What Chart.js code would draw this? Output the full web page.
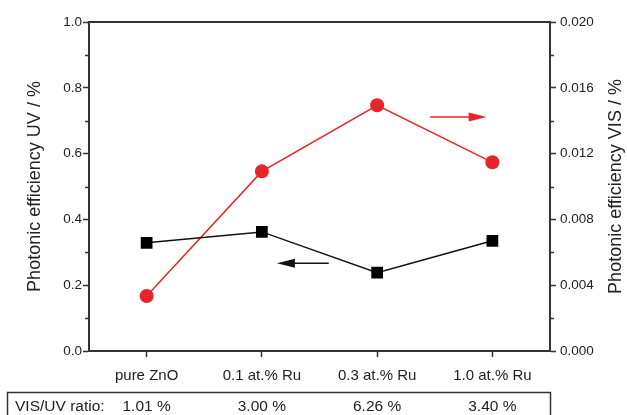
<!DOCTYPE html>
<html>
<head>
<meta charset="utf-8">
<script src="https://cdn.jsdelivr.net/npm/chart.js@4/dist/chart.umd.min.js"></script>
<style>
  html, body { margin: 0; padding: 0; background: #fff; }
  #wrap { width: 627px; height: 415px; position: relative; }
</style>
</head>
<body>
<div id="wrap"><canvas id="c" width="627" height="415"></canvas></div>
<script>
// ---- data ----
const categories = ['pure ZnO', '0.1 at.% Ru', '0.3 at.% Ru', '1.0 at.% Ru'];
const uvEfficiency = [0.329, 0.362, 0.238, 0.335];        // left axis, %
const visEfficiency = [0.00334, 0.01092, 0.01494, 0.01147]; // right axis, %
const visUvRatio = ['1.01 %', '3.00 %', '6.26 %', '3.40 %'];
const uvAxisRange = [0, 1.0, 0.2];       // min, max, step
const visAxisRange = [0, 0.020, 0.004];  // min, max, step
const uvTitle = 'Photonic efficiency UV / %';
const visTitle = 'Photonic efficiency VIS / %';
const tableLabel = 'VIS/UV ratio:';
// arrows pointing at the axis each series belongs to (category index, axis value)
const visArrow = { x0: 2.46, x1: 2.95, y: 0.01422 };
const uvArrow = { x0: 1.58, x1: 1.13, y: 0.267 };

const RED = '#e8232a';
const AXIS = '#333333';
const TEXT = '#222222';
const FONT = "'Liberation Sans', Arial, Helvetica, sans-serif";

function arrow(ctx, x0, y0, x1, y1, color) {
  const dir = Math.sign(x1 - x0);
  const headLen = 18, headHalf = 4.5;
  ctx.save();
  ctx.strokeStyle = color; ctx.fillStyle = color; ctx.lineWidth = 1.5;
  ctx.beginPath(); ctx.moveTo(x0, y0); ctx.lineTo(x1 - dir * headLen * 0.5, y1); ctx.stroke();
  ctx.beginPath();
  ctx.moveTo(x1, y1);
  ctx.lineTo(x1 - dir * headLen, y1 - headHalf);
  ctx.lineTo(x1 - dir * headLen, y1 + headHalf);
  ctx.closePath(); ctx.fill();
  ctx.restore();
}

const decorPlugin = {
  id: 'decor',
  afterDraw(chart) {
    const ctx = chart.ctx;
    const a = chart.chartArea;
    const x = chart.scales.x, yl = chart.scales.yUv, yr = chart.scales.yVis;
    ctx.save();
    // top border
    ctx.strokeStyle = AXIS; ctx.lineWidth = 2;
    ctx.beginPath(); ctx.moveTo(a.left - 1, a.top); ctx.lineTo(a.right + 1, a.top); ctx.stroke();
    // minor ticks
    ctx.lineWidth = 1.5;
    for (let v = uvAxisRange[0] + uvAxisRange[2] / 2; v < uvAxisRange[1]; v += uvAxisRange[2]) {
      const py = Math.round(yl.getPixelForValue(v)) + 0.5;
      ctx.beginPath(); ctx.moveTo(a.left - 4, py); ctx.lineTo(a.left, py); ctx.stroke();
    }
    for (let v = visAxisRange[0] + visAxisRange[2] / 2; v < visAxisRange[1]; v += visAxisRange[2]) {
      const py = Math.round(yr.getPixelForValue(v)) + 0.5;
      ctx.beginPath(); ctx.moveTo(a.right, py); ctx.lineTo(a.right + 4, py); ctx.stroke();
    }
    // arrows
    arrow(ctx, x.getPixelForValue(visArrow.x0), yr.getPixelForValue(visArrow.y),
               x.getPixelForValue(visArrow.x1), yr.getPixelForValue(visArrow.y), RED);
    arrow(ctx, x.getPixelForValue(uvArrow.x0), yl.getPixelForValue(uvArrow.y),
               x.getPixelForValue(uvArrow.x1), yl.getPixelForValue(uvArrow.y), '#111');
    // axis titles (both read bottom-to-top)
    ctx.fillStyle = TEXT;
    ctx.font = '18px ' + FONT;
    ctx.textAlign = 'center'; ctx.textBaseline = 'middle';
    const cy = (a.top + a.bottom) / 2;
    ctx.save(); ctx.translate(35, cy); ctx.rotate(-Math.PI / 2); ctx.fillText(uvTitle, 0, 0); ctx.restore();
    ctx.save(); ctx.translate(616, cy); ctx.rotate(-Math.PI / 2); ctx.fillText(visTitle, 0, 0); ctx.restore();
    // ratio table
    ctx.strokeStyle = AXIS; ctx.lineWidth = 1.5;
    ctx.strokeRect(7.5, 392.5, a.right - 7, 40);
    ctx.font = '15.5px ' + FONT;
    ctx.textAlign = 'left';
    ctx.fillText(tableLabel, 15, 407);
    ctx.textAlign = 'center';
    visUvRatio.forEach((t, i) => ctx.fillText(t, x.getPixelForValue(i), 407));
    ctx.restore();
  }
};

new Chart(document.getElementById('c'), {
  type: 'line',
  data: {
    labels: categories,
    datasets: [
      {
        label: 'UV', data: uvEfficiency, yAxisID: 'yUv',
        borderColor: '#111', backgroundColor: '#000', borderWidth: 1.5,
        pointStyle: 'rect', pointRadius: 8.3, pointBorderWidth: 0, pointHoverRadius: 8.3,
        tension: 0
      },
      {
        label: 'VIS', data: visEfficiency, yAxisID: 'yVis',
        borderColor: RED, backgroundColor: RED, borderWidth: 1.5,
        pointStyle: 'circle', pointRadius: 7, pointBorderWidth: 0, pointHoverRadius: 7,
        tension: 0
      }
    ]
  },
  options: {
    responsive: false, animation: false, devicePixelRatio: 1,
    layout: { padding: { top: 22, left: 0, right: 0, bottom: 0 } },
    plugins: { legend: { display: false }, tooltip: { enabled: false } },
    events: [],
    scales: {
      x: {
        type: 'category', offset: true, position: 'bottom',
        grid: { display: true, drawOnChartArea: false, drawTicks: true, tickLength: 6, tickColor: AXIS, tickWidth: 1.5, offset: false },
        border: { display: true, color: AXIS, width: 2 },
        ticks: { color: TEXT, font: { family: FONT, size: 15 }, padding: 10, maxRotation: 0 },
        afterFit(s) { s.height = 64; }
      },
      yUv: {
        type: 'linear', position: 'left',
        min: uvAxisRange[0], max: uvAxisRange[1],
        grid: { drawOnChartArea: false, tickLength: 6, tickColor: AXIS, tickWidth: 1.5 },
        border: { display: true, color: AXIS, width: 2 },
        ticks: { stepSize: uvAxisRange[2], color: TEXT, font: { family: FONT, size: 13.5 }, padding: 1,
                 callback: v => Number(v).toFixed(1) },
        afterFit(s) { s.width = 89; }
      },
      yVis: {
        type: 'linear', position: 'right',
        min: visAxisRange[0], max: visAxisRange[1],
        grid: { drawOnChartArea: false, tickLength: 6, tickColor: AXIS, tickWidth: 1.5 },
        border: { display: true, color: AXIS, width: 2 },
        ticks: { stepSize: visAxisRange[2], color: TEXT, font: { family: FONT, size: 13.5 }, padding: 4,
                 callback: v => Number(v).toFixed(3) },
        afterFit(s) { s.width = 77; }
      }
    }
  },
  plugins: [decorPlugin]
});
</script>
</body>
</html>
